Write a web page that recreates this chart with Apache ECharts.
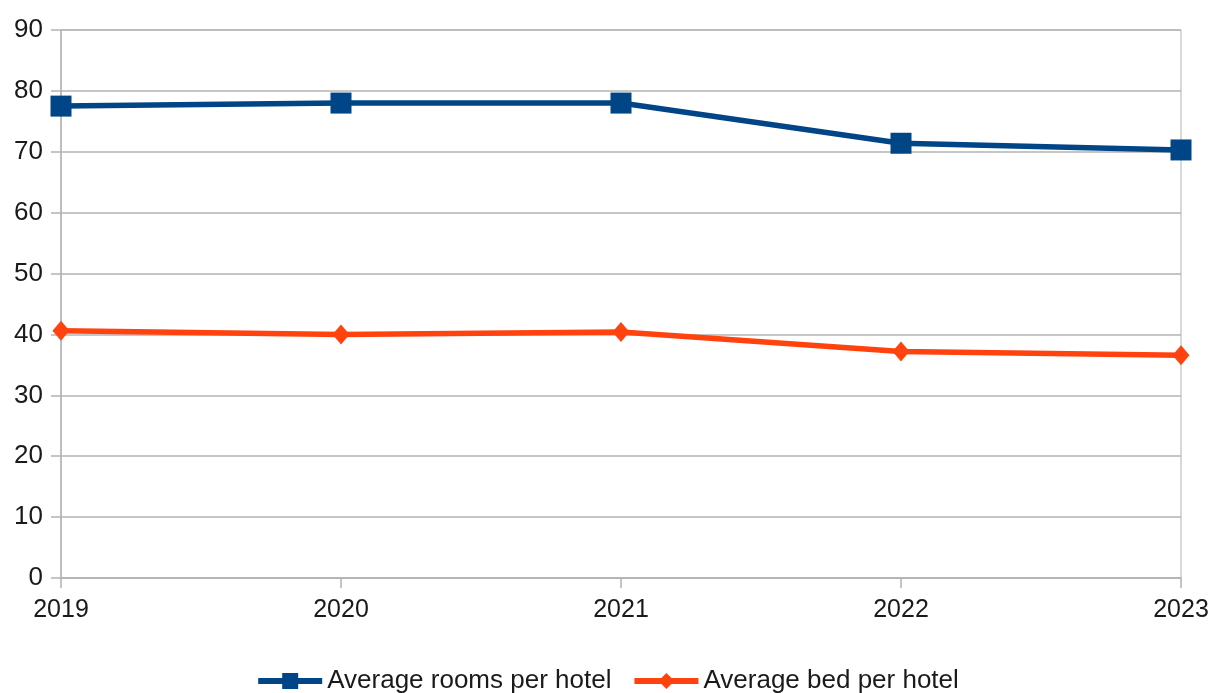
<!DOCTYPE html>
<html>
<head>
<meta charset="utf-8">
<script src="https://cdn.jsdelivr.net/npm/echarts@6/dist/echarts.min.js"></script>
<style>
  html, body { margin: 0; padding: 0; background: #fff; }
  #chart { width: 1214px; height: 693px; }
</style>
</head>
<body>
<div id="chart"></div>
<script>
// data
const years = ['2019', '2020', '2021', '2022', '2023']
const roomsPerHotel = [77.5, 78.0, 78.0, 71.4, 70.3]
const bedsPerHotel = [40.6, 40.0, 40.4, 37.2, 36.6]

const gridColor = '#b3b3b3'
const textFont = '"Liberation Sans", Arial, sans-serif'

const chart = echarts.init(document.getElementById('chart'))

chart.setOption({
  animation: false,
  backgroundColor: '#fff',
  grid: {
    left: 61, right: 33, top: 30, bottom: 115,
    show: true, borderColor: gridColor, borderWidth: 1
  },
  xAxis: {
    type: 'category',
    data: years,
    boundaryGap: false,
    axisLine: { lineStyle: { color: gridColor, width: 1.5 } },
    axisTick: { show: true, length: 10, lineStyle: { color: gridColor, width: 1.5 } },
    axisLabel: { color: '#1a1a1a', fontFamily: textFont, fontSize: 25, margin: 20 },
    splitLine: { show: false }
  },
  yAxis: {
    type: 'value',
    min: 0, max: 90, interval: 10,
    axisLine: { show: true, lineStyle: { color: gridColor, width: 1.5 } },
    axisTick: { show: true, length: 10, lineStyle: { color: gridColor, width: 1.5 } },
    axisLabel: { color: '#1a1a1a', fontFamily: textFont, fontSize: 26, margin: 18 },
    splitLine: { lineStyle: { color: gridColor, width: 1.5 } }
  },
  legend: {
    bottom: -6,
    left: 'center',
    itemWidth: 64,
    itemHeight: 20,
    itemGap: 20,
    lineStyle: { width: 6 },
    textStyle: { color: '#1a1a1a', fontFamily: textFont, fontSize: 26 },
    data: ['Average rooms per hotel', 'Average bed per hotel']
  },
  series: [
    {
      name: 'Average rooms per hotel',
      type: 'line',
      data: roomsPerHotel,
      symbol: 'rect',
      symbolSize: 21,
      lineStyle: { color: '#004586', width: 5.5 },
      itemStyle: { color: '#004586' }
    },
    {
      name: 'Average bed per hotel',
      type: 'line',
      data: bedsPerHotel,
      symbol: 'diamond',
      symbolSize: [17, 20],
      lineStyle: { color: '#ff420e', width: 5.5 },
      itemStyle: { color: '#ff420e' }
    }
  ]
})
</script>
</body>
</html>
